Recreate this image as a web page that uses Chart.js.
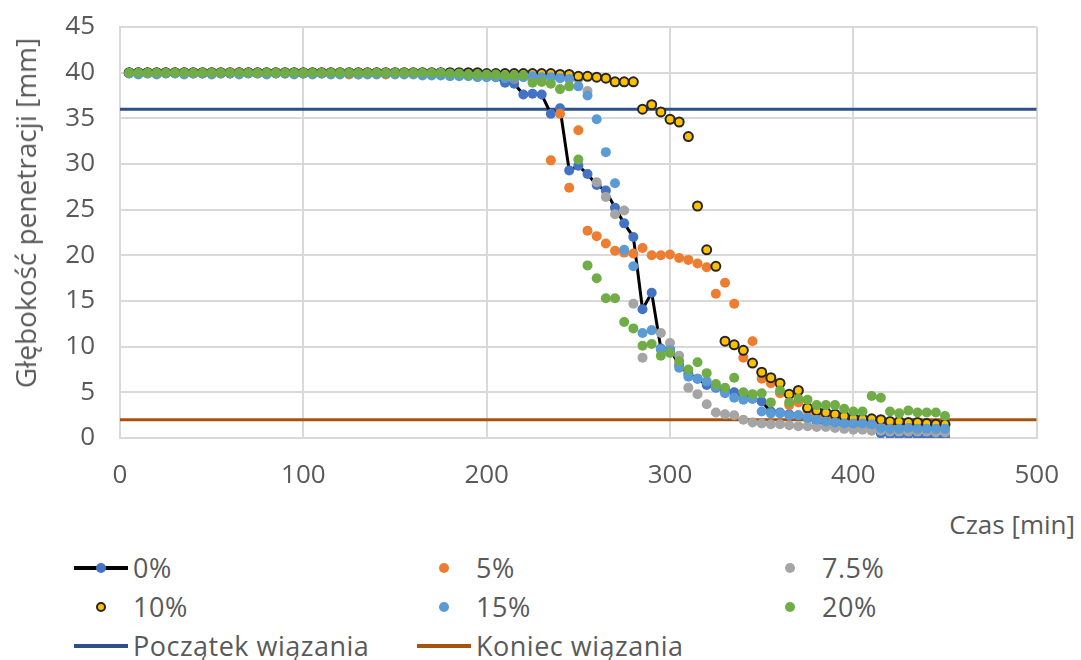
<!DOCTYPE html>
<html>
<head>
<meta charset="utf-8">
<script src="https://cdn.jsdelivr.net/npm/chart.js@4.4.0/dist/chart.umd.min.js"></script>
<style>
  body { margin:0; background:#fff; width:1081px; height:660px; overflow:hidden; position:relative;
         font-family:"Open Sans", sans-serif; color:#595959; }
  #chart { position:absolute; left:0; top:0; }
  .xtitle { position:absolute; right:6px; top:506px; font-size:26px; line-height:36px; white-space:nowrap; }
  .ytitle { position:absolute; left:25px; top:213px; font-size:28px; line-height:36px; white-space:nowrap;
            transform:translate(-50%,-50%) rotate(-90deg); }
  .item { position:absolute; height:36px; }
  .item .txt { position:absolute; top:0; font-size:27px; letter-spacing:0.5px; line-height:36px; white-space:nowrap; }
  .item .ln { position:absolute; top:16px; height:4px; width:54px; }
  .item .dot { position:absolute; top:13px; width:10px; height:10px; border-radius:50%; box-sizing:border-box; }
</style>
</head>
<body>
<canvas id="chart" width="1081" height="500"></canvas>
<div class="ytitle">Głębokość penetracji [mm]</div>
<div class="xtitle">Czas [min]</div>
<div id="legend"></div>
<script>
// Sampling times [min]
const times = [5,10,15,20,25,30,35,40,45,50,55,60,65,70,75,80,85,90,95,100,
  105,110,115,120,125,130,135,140,145,150,155,160,165,170,175,180,185,190,195,200,
  205,210,215,220,225,230,235,240,245,250,255,260,265,270,275,280,285,290,295,300,
  305,310,315,320,325,330,335,340,345,350,355,360,365,370,375,380,385,390,395,400,
  405,410,415,420,425,430,435,440,445,450];

// Penetration depth [mm] for each admixture content
const pen0 = [40,40,40,40,40,40,40,40,39.9,40, 40,39.9,40,40,40,40,40,39.9,39.9,39.9,
  40,39.9,40,39.9,40,40,39.9,40,39.9,39.9, 39.9,39.9,39.9,39.8,39.8,39.8,39.8,39.7,39.7,39.6,
  39.5,38.9,38.8,37.6,37.7,37.6,35.5,36.1,29.3,29.8, 28.9,27.7,27.1,25.2,23.5,22.0,14.1,15.9,9.8,9.7,
  8.0,7.0,6.5,5.8,5.5,5.2,5.0,4.6,4.3,4.0, 2.9,2.8,2.6,2.5,2.2,1.8,1.7,1.6,1.5,1.4,
  1.3,1.1,0.5,0.4,0.3,0.4,0.3,0.2,0.2,0.2];
const pen5 = [40,40,40,39.9,40,40,40,39.9,40,40, 39.9,40,40,40,39.9,40,39.9,40,40,39.9,
  40,40,39.9,40,39.8,39.8,40,39.9,39.8,39.9, 39.9,39.9,39.8,39.9,39.8,39.8,39.8,39.7,39.7,39.6,
  39.6,39.5,39.3,39.6,39.2,39.0,30.4,35.5,27.4,33.7, 22.7,22.1,21.3,20.5,20.3,20.2,20.8,20.0,20.0,20.1,
  19.7,19.5,19.1,18.7,15.8,17.0,14.7,8.8,10.6,6.5, 6.0,4.9,3.6,3.9,3.0,2.6,2.3,2.0,1.8,1.5,
  1.4,1.4,1.3,1.3,1.2,1.2,1.1,1.1,1.1,1.0];
const pen75 = [40,40,40,40,40,40,40,40,40,40, 40,40,40,40,40,40,40,40,40,40,
  40,40,40,40,40,40,40,40,40,40, 40,40,40,40,39.9,39.9,39.9,39.8,39.8,39.8,
  39.8,39.8,39.7,39.7,39.6,39.6,39.5,39.5,39.4,39.3, 38.0,28.0,26.4,24.5,24.9,14.7,8.8,11.8,11.5,10.4,
  9.0,5.5,4.8,3.7,2.8,2.6,2.5,2.0,1.7,1.6, 1.5,1.5,1.4,1.3,1.3,1.2,1.2,1.1,1.0,0.9,
  0.9,0.8,0.8,0.7,0.7,0.7,0.7,0.7,0.6,0.6];
const pen10 = [40,40,40,40,40,40,40,40,40,40, 40,40,40,40,40,40,40,40,40,40,
  40,40,40,40,40,40,40,40,40,40, 40,40,40,40,40,40,40,40,40,39.9,
  39.9,39.9,39.9,39.9,39.9,39.9,39.9,39.8,39.8,39.6, 39.6,39.5,39.4,39.0,39.0,39.0,36.0,36.5,35.7,34.9,
  34.6,33.0,25.4,20.6,18.8,10.6,10.2,9.6,8.2,7.2, 6.6,6.0,4.8,5.2,3.3,3.0,2.8,2.6,2.4,2.2,
  2.1,2.1,2.0,1.8,1.8,1.7,1.7,1.6,1.5,1.5];
const pen15 = [39.9,39.8,39.9,39.8,39.9,39.9,39.8,39.9,39.9,39.8, 39.9,39.9,39.8,39.9,39.9,39.8,39.9,39.9,39.8,39.9,
  39.8,39.9,39.8,39.8,39.9,39.8,39.8,39.8,39.9,39.8, 39.8,39.8,39.7,39.7,39.7,39.6,39.6,39.6,39.5,39.5,
  39.5,39.4,39.4,39.5,39.6,39.5,39.5,39.4,39.3,38.5, 37.5,34.9,31.3,27.9,20.6,18.8,11.5,11.8,9.7,9.6,
  7.7,6.7,6.5,6.2,5.6,4.9,4.4,4.2,4.3,2.9, 2.7,2.7,2.5,2.5,2.2,2.0,1.8,1.7,1.6,1.6,
  1.6,1.5,1.1,1.0,1.0,1.1,1.0,1.0,1.0,1.0];
const pen20 = [40,40,40,40,40,40,40,40,40,40, 40,40,40,40,40,40,40,40,40,40,
  40,40,40,40,40,40,40,40,40,40, 40,40,40,40,40,39.9,39.9,39.8,39.8,39.8,
  39.8,39.7,39.7,39.7,38.9,39.0,38.8,38.2,38.5,30.5, 18.9,17.5,15.3,15.3,12.7,12.0,10.1,10.3,9.0,9.3,
  8.4,7.5,8.3,7.1,5.9,5.5,6.6,5.0,4.8,4.9, 3.9,5.2,3.9,4.3,4.2,3.6,3.6,3.6,3.2,2.9,
  2.9,4.6,4.4,2.9,2.7,3.0,2.8,2.8,2.8,2.4];

const seriesNames = ['0%','5%','7.5%','10%','15%','20%'];
const setStartDepth = 36;   // Początek wiązania
const setEndDepth = 2;      // Koniec wiązania
const timeRange = [0, 500];
const xTicks = [0,100,200,300,400,500];
const yTicks = [0,5,10,15,20,25,30,35,40,45];

const pts = arr => times.map((t, i) => ({x: t, y: arr[i]}));
const hline = v => timeRange.map(t => ({x: t, y: v}));

const dot = (label, data, color, order, extra) => Object.assign({
  label, data: pts(data), showLine: false,
  pointRadius: 5, pointHoverRadius: 5,
  pointBackgroundColor: color, pointBorderColor: color, pointBorderWidth: 0,
  order
}, extra || {});

const datasets = [
  dot(seriesNames[0], pen0, '#4472C4', 6, {showLine: true, borderColor: '#000000', borderWidth: 3}),
  dot(seriesNames[1], pen5, '#ED7D31', 5),
  dot(seriesNames[2], pen75, '#A5A5A5', 4),
  dot(seriesNames[3], pen10, '#FFC000', 3, {pointRadius: 4.5, pointBorderColor: '#262626', pointBorderWidth: 2}),
  dot(seriesNames[4], pen15, '#5B9BD5', 2),
  dot(seriesNames[5], pen20, '#70AD47', 1),
  {label: 'Początek wiązania', data: hline(setStartDepth), showLine: true, borderColor: '#2F4F8A',
   borderWidth: 3, pointRadius: 0, order: 8},
  {label: 'Koniec wiązania', data: hline(setEndDepth), showLine: true, borderColor: '#A8520F',
   borderWidth: 3, pointRadius: 0, order: 7}
];

const gridColor = '#D9D9D9';
const tickFont = {family: '"Open Sans", sans-serif', size: 26};

new Chart(document.getElementById('chart'), {
  type: 'scatter',
  data: {datasets},
  options: {
    responsive: false, animation: false, devicePixelRatio: 1,
    layout: {padding: {top: 27, right: 44, left: 0, bottom: 0}},
    plugins: {legend: {display: false}, tooltip: {enabled: false}},
    scales: {
      x: {
        type: 'linear', min: timeRange[0], max: timeRange[1],
        afterBuildTicks: s => { s.ticks = xTicks.map(v => ({value: v})); },
        afterFit: s => { s.height = 62; },
        grid: {color: gridColor, lineWidth: 2, drawTicks: false},
        border: {color: gridColor, width: 2},
        ticks: {color: '#595959', font: tickFont, padding: 22, maxRotation: 0}
      },
      y: {
        type: 'linear', min: 0, max: 45,
        afterBuildTicks: s => { s.ticks = yTicks.map(v => ({value: v})); },
        afterFit: s => { s.width = 120; s.paddingTop = 0; s.paddingBottom = 0; },
        grid: {color: gridColor, lineWidth: 2, drawTicks: false},
        border: {color: gridColor, width: 2},
        ticks: {color: '#595959', font: tickFont, padding: 25}
      }
    }
  }
});

// Legend laid out in three columns below the plot
const legendSpec = [
  {i: 0, col: 0, row: 0, line: '#000000', dot: '#4472C4'},
  {i: 1, col: 1, row: 0, dot: '#ED7D31'},
  {i: 2, col: 2, row: 0, dot: '#A5A5A5'},
  {i: 3, col: 0, row: 1, dot: '#FFC000', ring: '#262626'},
  {i: 4, col: 1, row: 1, dot: '#5B9BD5'},
  {i: 5, col: 2, row: 1, dot: '#70AD47'},
  {i: 6, col: 0, row: 2, line: '#2F4F8A'},
  {i: 7, col: 1, row: 2, line: '#A8520F'}
];
const colCenters = [101, 444, 790];
const rowCenters = [568, 607, 646];
const legend = document.getElementById('legend');
legendSpec.forEach(s => {
  const cx = colCenters[s.col], cy = rowCenters[s.row];
  const item = document.createElement('div');
  item.className = 'item';
  item.style.left = (cx - 27) + 'px';
  item.style.top = (cy - 18) + 'px';
  if (s.line) {
    const ln = document.createElement('div');
    ln.className = 'ln'; ln.style.left = '0px'; ln.style.background = s.line;
    item.appendChild(ln);
  }
  if (s.dot) {
    const d = document.createElement('div');
    d.className = 'dot'; d.style.left = '22px'; d.style.background = s.dot;
    if (s.ring) d.style.border = '2px solid ' + s.ring;
    item.appendChild(d);
  }
  const t = document.createElement('div');
  t.className = 'txt'; t.style.left = '59px';
  t.textContent = datasets[s.i].label;
  item.appendChild(t);
  legend.appendChild(item);
});
</script>
</body>
</html>
